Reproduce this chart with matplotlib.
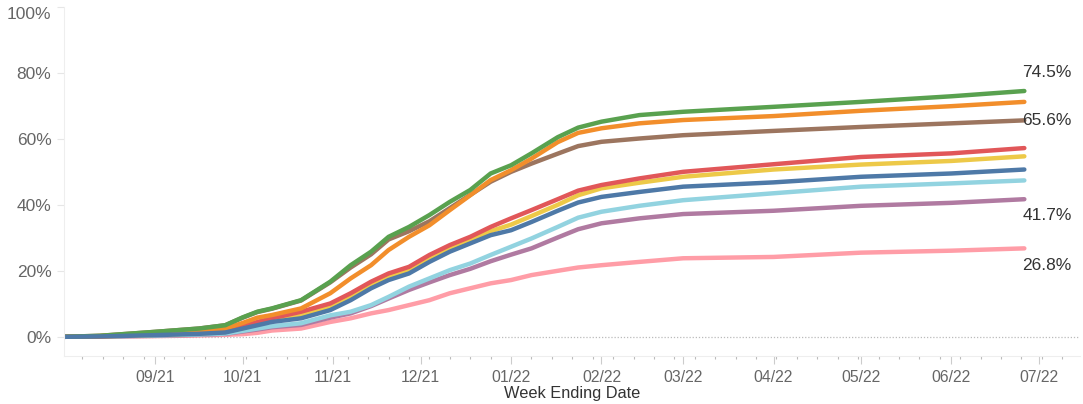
import pandas as pd
import numpy as np
import matplotlib.pyplot as plt
import matplotlib.dates as mdates
from matplotlib.ticker import FuncFormatter

plt.rcParams['font.family'] = ['Liberation Sans', 'DejaVu Sans']

dates = pd.to_datetime([
    "2021-08-01", "2021-08-13", "2021-09-01", "2021-09-16", "2021-09-25",
    "2021-10-01", "2021-10-06", "2021-10-11", "2021-10-21", "2021-10-31",
    "2021-11-07", "2021-11-14", "2021-11-20", "2021-11-27", "2021-12-04",
    "2021-12-11", "2021-12-18", "2021-12-25", "2022-01-01", "2022-01-08",
    "2022-01-17", "2022-01-24", "2022-02-01", "2022-02-14", "2022-03-01",
    "2022-04-01", "2022-05-01", "2022-06-01", "2022-06-26",
])

green = [0, 0.3, 1.5, 2.5, 3.5, 5.9, 7.6, 8.6, 11.1, 16.7, 21.7, 25.8, 30.3, 33.3, 36.9,
         40.9, 44.5, 49.5, 52.0, 55.6, 60.5, 63.4, 65.2, 67.2, 68.2, 69.7, 71.2, 72.9, 74.5]
orange = [0, 0.2, 1.0, 1.8, 2.5, 4.2, 5.8, 6.6, 8.6, 13.2, 17.7, 21.7, 26.3, 30.3, 33.8,
          38.4, 42.9, 47.5, 50.5, 54.0, 59.0, 61.8, 63.2, 64.7, 65.7, 66.9, 68.5, 69.9, 71.2]
brown = [0, 0.3, 1.5, 2.5, 3.5, 5.8, 7.5, 8.5, 11.0, 16.5, 21.0, 25.0, 29.5, 32.0, 35.0,
         39.0, 43.0, 47.0, 50.0, 52.5, 55.5, 57.8, 59.1, 60.1, 61.1, 62.4, 63.6, 64.7, 65.6]
red = [0, 0.1, 0.8, 1.3, 1.8, 3.2, 4.5, 5.6, 7.6, 10.1, 13.2, 16.7, 19.2, 21.2, 24.8,
       27.8, 30.3, 33.3, 35.9, 38.4, 41.7, 44.3, 46.0, 48.0, 50.0, 52.3, 54.5, 55.6, 57.2]
yellow = [0, 0.1, 0.6, 1.0, 1.5, 2.6, 3.8, 4.8, 6.6, 9.0, 12.3, 15.8, 18.2, 20.2, 23.6,
          26.6, 29.2, 32.0, 34.0, 36.6, 40.0, 42.9, 45.0, 46.7, 48.5, 50.7, 52.2, 53.3, 54.7]
blue = [0, 0.1, 0.5, 0.9, 1.3, 2.5, 3.5, 4.5, 5.6, 8.1, 11.1, 14.7, 17.2, 19.2, 22.7,
        25.8, 28.3, 30.8, 32.3, 34.8, 38.2, 40.7, 42.4, 43.9, 45.5, 46.8, 48.5, 49.5, 50.7]
cyan = [0, 0.1, 0.4, 0.7, 1.0, 1.8, 2.5, 3.2, 4.1, 6.5, 7.6, 9.6, 12.1, 15.2, 17.7,
        20.2, 22.2, 24.8, 27.3, 29.8, 33.3, 36.1, 37.9, 39.7, 41.4, 43.5, 45.5, 46.5, 47.4]
purple = [0, 0.1, 0.3, 0.6, 0.9, 1.6, 2.2, 2.9, 3.6, 5.8, 7.1, 9.3, 11.6, 14.2, 16.5,
          18.7, 20.6, 22.9, 24.9, 26.8, 30.1, 32.6, 34.4, 35.9, 37.2, 38.2, 39.7, 40.6, 41.7]
pink = [0, 0.05, 0.2, 0.4, 0.6, 0.8, 1.2, 1.9, 2.5, 4.5, 5.6, 7.1, 8.1, 9.6, 11.1,
        13.2, 14.7, 16.2, 17.2, 18.7, 20.0, 21.0, 21.7, 22.7, 23.8, 24.2, 25.5, 26.1, 26.8]

# drawing order: first is at the bottom
series = [
    (brown, "#9c755f"),
    (pink, "#ff9da7"),
    (purple, "#b07aa1"),
    (cyan, "#92d3e0"),
    (yellow, "#edc948"),
    (red, "#e15759"),
    (orange, "#f28e2b"),
    (green, "#59a14f"),
    (blue, "#4e79a7"),
]

# end labels: text, series, vertical offset in points
end_labels = [("74.5%", green, 13), ("65.6%", brown, 0), ("41.7%", purple, -12), ("26.8%", pink, -12)]

fig = plt.figure(figsize=(10.83, 4.04), dpi=100)
ax = fig.add_axes([0.059, 0.119, 0.938, 0.864])

for vals, col in series:
    ax.plot(dates, vals, color=col, lw=3.2, solid_capstyle='round', solid_joinstyle='round')

for txt, vals, dy in end_labels:
    ax.annotate(txt, (dates[-1], vals[-1]), xytext=(-1.5, dy), textcoords='offset points',
                ha='left', va='center', fontsize=12.5, color='#333333')

ax.axhline(0, color='#bbbbbb', lw=0.9, ls=(0, (1, 1.5)), zorder=0)

ax.set_ylim(-5.8, 100)
ax.set_xlim(pd.Timestamp("2021-07-31 16:00"), pd.Timestamp("2022-07-15"))

ax.set_yticks([0, 20, 40, 60, 80, 100])
ax.yaxis.set_major_formatter(FuncFormatter(lambda v, p: f"{v:.0f}%"))
ax.tick_params(axis='y', labelsize=12.5, labelcolor='#666666', color='#e6e6e6', length=5, width=0.8, pad=4)
ax.get_yticklabels()[-1].set_va('top')

ax.set_xticks(pd.date_range("2021-09-01", "2022-07-01", freq="MS"))
ax.xaxis.set_major_formatter(mdates.DateFormatter('%m/%y'))
ax.xaxis.set_minor_locator(mdates.WeekdayLocator(byweekday=mdates.SA))
ax.tick_params(axis='x', which='major', labelsize=11.3, labelcolor='#666666', color='#cccccc',
               length=6, width=0.8, pad=4)
ax.tick_params(axis='x', which='minor', color='#bbbbbb', length=2, width=0.8)

ax.set_xlabel("Week Ending Date", fontsize=11.8, color='#333333', labelpad=1)

for s in ['top', 'right']:
    ax.spines[s].set_visible(False)
ax.spines['left'].set_color('#eeeeee')
ax.spines['bottom'].set_color('#eeeeee')

fig.savefig("out.png", dpi=100)
